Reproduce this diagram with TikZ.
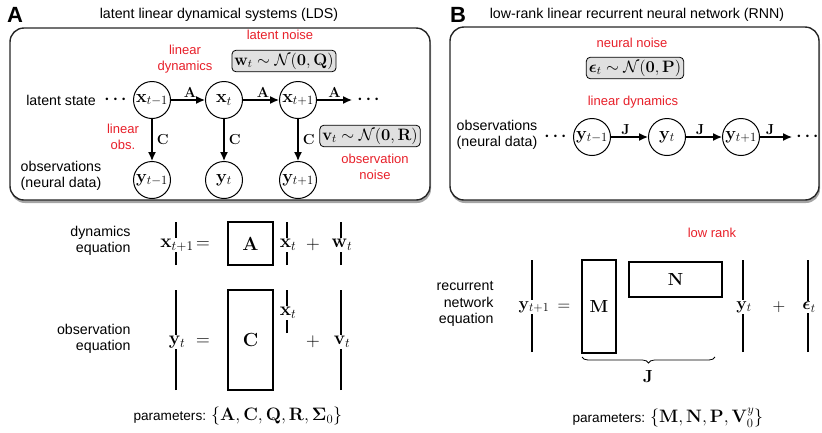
\RequirePackage{fix-cm}
\documentclass[tikz,border=0pt]{standalone}
\usepackage{amsmath,amssymb}
\usepackage[no-math]{fontspec}
\setmainfont{Liberation Sans}
\usetikzlibrary{arrows.meta,shadows,decorations.pathreplacing}
\definecolor{redlbl}{RGB}{232,32,42}
\newcommand\mth[1]{{\fontsize{16.5}{19}\selectfont$#1$}}
\newcommand\medge[1]{{\fontsize{14.5}{17}\selectfont$#1$}}
\newcommand\mcirc[1]{{\fontsize{18}{21}\selectfont$#1$}}
\newcommand\meql[1]{{\fontsize{19}{22}\selectfont$#1$}}
\newcommand\meqr[1]{{\fontsize{17.5}{21}\selectfont$#1$}}
\newcommand\mpar[1]{{\fontsize{18}{21}\selectfont$#1$}}
\tikzset{
  every node/.style={font=\fontsize{14.2}{16.5}\selectfont},
  panel/.style={draw=black!85, line width=1.4pt, rounded corners=14pt, fill=white,
    drop shadow={shadow xshift=1pt, shadow yshift=-3pt, fill=black!70, opacity=0.5}},
  var/.style={circle, draw, line width=1pt, minimum size=37pt, inner sep=0pt},
  arr/.style={line width=1.3pt, -{Latex[length=9pt,width=8pt]}},
  noisebox/.style={draw, rounded corners=4pt, fill=black!12, line width=0.8pt, inner sep=2.5pt},
  redtxt/.style={text=redlbl, align=center, font=\fontsize{13}{15.5}\selectfont},
  lbl/.style={align=center},
  eqlbl/.style={align=right, anchor=east},
  bar/.style={line width=1.3pt},
  mat/.style={draw, line width=1.3pt},
  thickmat/.style={draw, line width=2.2pt},
  vlab/.style={fill=white, inner sep=1pt},
  partxt/.style={anchor=west, font=\fontsize{13.6}{16}\selectfont},
  panellbl/.style={font=\fontsize{22}{24}\selectfont\bfseries}
}
\begin{document}
\begin{tikzpicture}[x=1pt,y=-1pt]
\useasboundingbox (0,0) rectangle (822,432);

% ---------------- Panel A ----------------
\node[panellbl] (la) at (15,15) {A};
\node (ta) at (219,15) {latent linear dynamical systems (LDS)};
\draw[panel] (10,28) rectangle (430,200);

\node[var] (x1) at (152,100) {\mcirc{\mathbf{x}_{t-1}}};
\node[var] (x2) at (224,100) {\mcirc{\mathbf{x}_{t}}};
\node[var] (x3) at (298,100) {\mcirc{\mathbf{x}_{t+1}}};
\node[var] (y1) at (152,180) {\mcirc{\mathbf{y}_{t-1}}};
\node[var] (y2) at (224,180) {\mcirc{\mathbf{y}_{t}}};
\node[var] (y3) at (298,180) {\mcirc{\mathbf{y}_{t+1}}};
\node (dl) at (117,100) {\mth{\boldsymbol{\cdots}}};
\coordinate (xe) at (352,100);
\node (dr) at (370,100) {\mth{\boldsymbol{\cdots}}};

\draw[arr] (x1) -- node[above=-1pt, xshift=2pt] {\medge{\mathbf{A}}} (x2);
\draw[arr] (x2) -- node[above=-1pt, xshift=2pt] {\medge{\mathbf{A}}} (x3);
\draw[arr] (x3) -- node[above=-1pt, xshift=0pt] {\medge{\mathbf{A}}} (xe);
\draw[arr] (x1) -- node[right=1pt] {\medge{\mathbf{C}}} (y1);
\draw[arr] (x2) -- node[right=1pt] {\medge{\mathbf{C}}} (y2);
\draw[arr] (x3) -- node[right=1pt] {\medge{\mathbf{C}}} (y3);

\node[lbl] (ls) at (61,100) {latent state};
\node[lbl] (obsa) at (61,176) {observations\\(neural data)};
\node[redtxt] (ldyn) at (185,59) {linear\\dynamics};
\node[redtxt] (lnoise) at (280,35) {latent noise};
\node[noisebox] (wbox) at (284,61) {\mth{\mathbf{w}_t \sim \mathcal{N}(\mathbf{0},\mathbf{Q})}};
\node[redtxt] (lobs) at (123,137) {linear\\obs.};
\node[noisebox] (vbox) at (370,136) {\mth{\mathbf{v}_t \sim \mathcal{N}(\mathbf{0},\mathbf{R})}};
\node[redtxt] (onoise) at (375,167) {observation\\noise};

% ---------------- Panel B ----------------
\node[panellbl] (lb) at (458,15) {B};
\node (tb) at (637,15) {low-rank linear recurrent neural network (RNN)};
\draw[panel] (450,27) rectangle (819,200);

\node[redtxt] (nnoise) at (632,43) {neural noise};
\node[noisebox] (ebox) at (635,68) {\mth{\boldsymbol{\epsilon}_t \sim \mathcal{N}(\mathbf{0},\mathbf{P})}};
\node[redtxt] (ldynb) at (633,102) {linear dynamics};
\node[lbl] (obsb) at (497,135) {observations\\(neural data)};

\node[var] (r1) at (592,137) {\mcirc{\mathbf{y}_{t-1}}};
\node[var] (r2) at (667,137) {\mcirc{\mathbf{y}_{t}}};
\node[var] (r3) at (741,137) {\mcirc{\mathbf{y}_{t+1}}};
\node (dbl) at (557,137) {\mth{\boldsymbol{\cdots}}};
\coordinate (re) at (792,137);
\node (dbr) at (809,137) {\mth{\boldsymbol{\cdots}}};
\draw[arr] (r1) -- node[above=-1pt, xshift=-4pt] {\medge{\mathbf{J}}} (r2);
\draw[arr] (r2) -- node[above=-1pt, xshift=-4pt] {\medge{\mathbf{J}}} (r3);
\draw[arr] (r3) -- node[above=-1pt, xshift=-6pt] {\medge{\mathbf{J}}} (re);

% ---------------- Bottom left equations ----------------
\node[eqlbl] (deq) at (134,241) {dynamics\\equation};
\node[vlab] (e1a) at (177,245) {\meql{\mathbf{x}_{t+1}}};
\coordinate (e1at) at (176,222); \coordinate (e1ab) at (176,265);
\draw[bar] (e1at) -- (e1at |- e1a.north);
\draw[bar] (e1ab) -- (e1ab |- e1a.south);
\node (eq1) at (203,245) {\meql{=}};
\node[mat, minimum width=45pt, minimum height=43pt] (Am) at (250.5,243.5) {\meql{\mathbf{A}}};
\node[vlab] (e1b) at (288,245) {\meql{\mathbf{x}_{t}}};
\coordinate (e1bt) at (287,222); \coordinate (e1bb) at (287,265);
\draw[bar] (e1bt) -- (e1bt |- e1b.north);
\draw[bar] (e1bb) -- (e1bb |- e1b.south);
\node (pl1) at (313,245) {\meql{+}};
\node[vlab] (e1c) at (342,245) {\meql{\mathbf{w}_{t}}};
\coordinate (e1ct) at (341,222); \coordinate (e1cb) at (341,265);
\draw[bar] (e1ct) -- (e1ct |- e1c.north);
\draw[bar] (e1cb) -- (e1cb |- e1c.south);

\node[eqlbl] (oeq) at (134,339) {observation\\equation};
\node[vlab] (e2a) at (177,342) {\meql{\mathbf{y}_{t}}};
\coordinate (e2at) at (176,290); \coordinate (e2ab) at (176,390);
\draw[bar] (e2at) -- (e2at |- e2a.north);
\draw[bar] (e2ab) -- (e2ab |- e2a.south);
\node (eq2) at (203,342) {\meql{=}};
\node[mat, minimum width=45pt, minimum height=100pt] (Cm) at (250.5,340) {\meql{\mathbf{C}}};
\node[vlab] (e2b) at (288,313) {\meql{\mathbf{x}_{t}}};
\coordinate (e2bt) at (287,290); \coordinate (e2bb) at (287,333);
\draw[bar] (e2bt) -- (e2bt |- e2b.north);
\draw[bar] (e2bb) -- (e2bb |- e2b.south);
\node (pl2) at (313,342) {\meql{+}};
\node[vlab] (e2c) at (342,342) {\meql{\mathbf{v}_{t}}};
\coordinate (e2ct) at (341,290); \coordinate (e2cb) at (341,390);
\draw[bar] (e2ct) -- (e2ct |- e2c.north);
\draw[bar] (e2cb) -- (e2cb |- e2c.south);

\node[partxt] (para) at (130,416) {parameters: \mpar{\{\mathbf{A},\mathbf{C},\mathbf{Q},\mathbf{R},\mathbf{\Sigma}_0\}}};

% ---------------- Bottom right equation ----------------
\node[redtxt] (lrank) at (712,233) {low rank};
\node[eqlbl] (req) at (497,304) {recurrent\\network\\equation};
\node[vlab] (e3a) at (534,307) {\meqr{\mathbf{y}_{t+1}}};
\coordinate (e3at) at (532,260); \coordinate (e3ab) at (532,352);
\draw[bar] (e3at) -- (e3at |- e3a.north);
\draw[bar] (e3ab) -- (e3ab |- e3a.south);
\node (eq3) at (564,307) {\meqr{=}};
\node[thickmat, minimum width=34pt, minimum height=93pt] (Mm) at (599,306.5) {\meqr{\mathbf{M}}};
\node[thickmat, minimum width=93pt, minimum height=35pt] (Nm) at (675.5,279.5) {\meqr{\mathbf{N}}};
\node[vlab] (e3b) at (744,307) {\meqr{\mathbf{y}_{t}}};
\coordinate (e3bt) at (743,260); \coordinate (e3bb) at (743,352);
\draw[bar] (e3bt) -- (e3bt |- e3b.north);
\draw[bar] (e3bb) -- (e3bb |- e3b.south);
\node (pl3) at (779,307) {\meqr{+}};
\node[vlab] (e3c) at (809,307) {\meqr{\boldsymbol{\epsilon}_{t}}};
\coordinate (e3ct) at (808,260); \coordinate (e3cb) at (808,352);
\draw[bar] (e3ct) -- (e3ct |- e3c.north);
\draw[bar] (e3cb) -- (e3cb |- e3c.south);
\coordinate (brl) at (582,357); \coordinate (brr) at (715,357);
\draw[decorate, decoration={brace, amplitude=6pt, mirror}, line width=0.8pt] (brl) -- (brr);
\node (Jb) at (648,376) {\meqr{\mathbf{J}}};

\node[partxt] (parb) at (569,418) {parameters: \mpar{\{\mathbf{M},\mathbf{N},\mathbf{P},\mathbf{V}_0^y\}}};
\end{tikzpicture}
\end{document}
